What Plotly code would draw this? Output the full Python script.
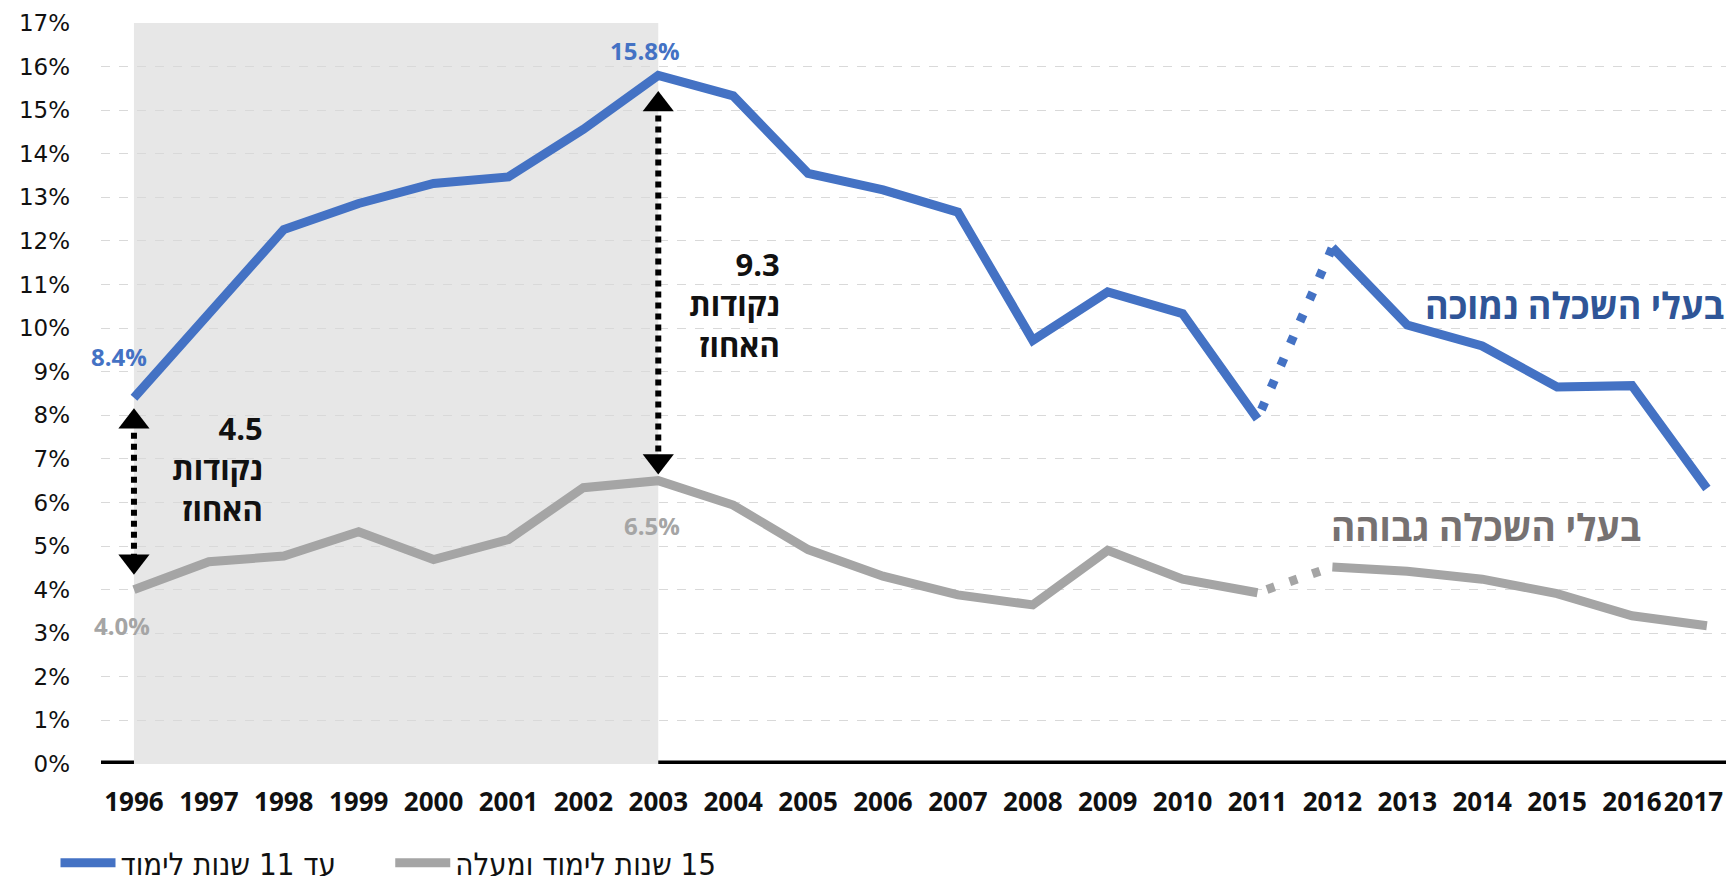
import plotly.graph_objects as go

years = list(range(1996, 2018))
low_edu = [8.4, 10.3, 12.26, 12.86, 13.32, 13.47, 14.56, 15.8, 15.33, 13.55, 13.17, 12.66,
           9.72, 10.83, 10.33, 7.92, 11.85, 10.07, 9.59, 8.65, 8.68, 6.32]
high_edu = [4.0, 4.64, 4.77, 5.33, 4.69, 5.15, 6.34, 6.5, 5.94, 4.92, 4.31, 3.88,
            3.65, 4.90, 4.24, 3.93, 4.52, 4.42, 4.24, 3.91, 3.40, 3.17]
y_ticks = list(range(0, 18))
x_labels = [str(y) for y in years]
x_labels[-1] = x_labels[-1] + "\u00a0\u00a0\u00a0\u00a0"  # keep last label inside the page
series_names = ["עד 11 שנות לימוד", "\u200F15 שנות לימוד ומעלה"]
gap_labels = ["4.5<br>נקודות<br>האחוז", "9.3<br>נקודות<br>האחוז"]
series_labels = ["בעלי השכלה נמוכה", "בעלי השכלה גבוהה"]

BLUE = "#4472C4"
GRAY = "#A5A5A5"
BREAK = years.index(2011)

fig = go.Figure()

def add_series(vals, color, name, legend_id):
    fig.add_trace(go.Scatter(x=years[:BREAK + 1], y=vals[:BREAK + 1], mode="lines",
                             line=dict(color=color, width=9), name=name, legend=legend_id,
                             legendgroup=name, showlegend=True, hoverinfo="skip"))
    fig.add_trace(go.Scatter(x=years[BREAK:BREAK + 2], y=vals[BREAK:BREAK + 2], mode="lines",
                             line=dict(color=color, width=9, dash="0px,10px,8px,6px"),
                             legendgroup=name, showlegend=False, hoverinfo="skip"))
    fig.add_trace(go.Scatter(x=years[BREAK + 1:], y=vals[BREAK + 1:], mode="lines",
                             line=dict(color=color, width=9),
                             legendgroup=name, showlegend=False, hoverinfo="skip"))

add_series(low_edu, BLUE, series_names[0], "legend")
add_series(high_edu, GRAY, series_names[1], "legend2")

# double-headed dotted arrows (gap markers)
arrow_specs = [(1996, 7.85, 4.65), (2003, 15.13, 6.95)]
for ax_year, top, bottom in arrow_specs:
    fig.add_trace(go.Scatter(x=[ax_year, ax_year], y=[top, bottom], mode="lines+markers",
                             line=dict(color="black", width=6, dash="6px,5px"),
                             marker=dict(symbol=["triangle-up", "triangle-down"], size=27,
                                         color="black"),
                             showlegend=False, hoverinfo="skip"))

# shaded period
fig.add_shape(type="rect", xref="x", yref="y", x0=1996, x1=2003, y0=0, y1=17,
              fillcolor="#E7E7E7", line_width=0, layer="below")
# black base axis
fig.add_shape(type="line", xref="paper", yref="y", x0=0, x1=1, y0=0, y1=0,
              line=dict(color="black", width=7), layer="between")

bold = dict(family="Open Sans, Liberation Sans, sans-serif", weight="bold")

# value labels
value_labels = [
    (1996, low_edu[0], BLUE, -15, 41),
    (1996, high_edu[0], GRAY, -12, -36),
    (2003, low_edu[7], BLUE, -13, 25),
    (2003, high_edu[7], GRAY, -6, -45),
]
for xv, yv, col, xs, ys in value_labels:
    fig.add_annotation(x=xv, y=yv, xref="x", yref="y", text=f"{yv:.1f}%", showarrow=False,
                       xshift=xs, yshift=ys, font=dict(size=24, color=col, **bold))

fig.add_annotation(x=1997.75, y=6.79, xref="x", yref="y", text=gap_labels[0], showarrow=False,
                   xanchor="right", yanchor="middle", align="right",
                   font=dict(size=31, color="#111111", **bold))
fig.add_annotation(x=2004.65, y=10.55, xref="x", yref="y", text=gap_labels[1], showarrow=False,
                   xanchor="right", yanchor="middle", align="right",
                   font=dict(size=31, color="#111111", **bold))

fig.add_annotation(x=1.0, y=10.51, xref="paper", yref="y", text=series_labels[0], showarrow=False,
                   xanchor="right", yanchor="middle",
                   font=dict(size=36, color="#2F5597", **bold))
fig.add_annotation(x=2014.05, y=5.44, xref="x", yref="y", text=series_labels[1], showarrow=False,
                   xanchor="center", yanchor="middle",
                   font=dict(size=37, color="#767171", **bold))

legend_font = dict(family="Liberation Sans Narrow, DejaVu Sans Condensed, Liberation Sans, sans-serif",
                   size=31, color="#111111")

# the page body has an 8px margin, so the figure is sized to fit inside the window
fig.update_layout(
    width=1718, height=868, autosize=False,
    margin=dict(l=93, r=0, t=15, b=112, autoexpand=False),
    plot_bgcolor="white", paper_bgcolor="white",
    showlegend=True,
    legend=dict(orientation="h", x=-0.028, y=-0.1336, xanchor="left", yanchor="middle",
                font=legend_font, itemwidth=55, bgcolor="rgba(0,0,0,0)"),
    legend2=dict(orientation="h", x=0.178, y=-0.1336, xanchor="left", yanchor="middle",
                 font=legend_font, itemwidth=55, bgcolor="rgba(0,0,0,0)"),
    xaxis=dict(range=[1995.56, 2017.255], tickvals=years, ticktext=x_labels, tickangle=0,
               showgrid=False, zeroline=False, showline=False, ticks="", automargin=False,
               ticklabelstandoff=20, ticklabeloverflow="allow",
               tickfont=dict(size=26, color="#111111", **bold)),
    yaxis=dict(range=[0, 17], tickvals=y_ticks, ticktext=[f"{v}%" for v in y_ticks],
               showgrid=True, gridcolor="#D9D9D9", gridwidth=1, griddash="dash",
               zeroline=False, showline=False, ticks="", ticklabelstandoff=30, automargin=False,
               tickfont=dict(family="DejaVu Sans, Verdana, sans-serif", size=23, color="#111111")),
)

fig.write_html("out.html")
